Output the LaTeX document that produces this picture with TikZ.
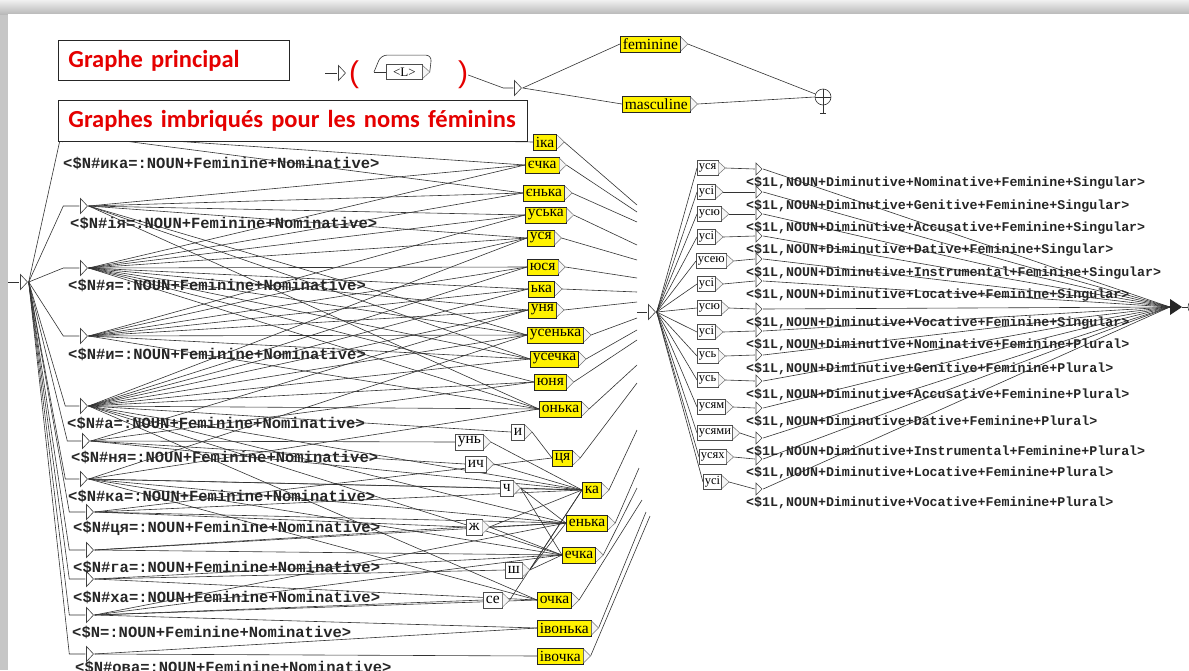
\documentclass[tikz,border=0pt]{standalone}
\usepackage{fontspec}
\setmainfont{Liberation Serif}
\newfontfamily\monof{Liberation Mono}
\newfontfamily\ttlf{Carlito}
\newfontfamily\parf{Liberation Sans}
\pgfdeclarelayer{back}
\pgfdeclarelayer{bg}
\pgfsetlayers{back,bg,main}
\begin{document}
\begin{tikzpicture}[x=1pt,y=-1pt,
 edge/.style={draw=black!80,line width=0.6pt},
 st/.style={inner sep=0pt,minimum width=9pt,minimum height=17pt,
   path picture={\draw[line width=0.6pt,draw=black!75,fill=white]
     ([shift={(1pt,-1pt)}]path picture bounding box.north west) --
     ([xshift=-1pt]path picture bounding box.east) --
     ([shift={(1pt,1pt)}]path picture bounding box.south west) -- cycle;}},
 stdark/.style={inner sep=0pt,minimum width=12pt,minimum height=16pt,
   path picture={\fill[black!85]
     (path picture bounding box.north west) --
     (path picture bounding box.east) --
     (path picture bounding box.south west) -- cycle;}},
 ybox/.style={draw=black!85,fill=yellow,line width=0.75pt,inner xsep=2.5pt,inner ysep=0pt,
   minimum height=16pt,font=\fontsize{15.5}{15.5}\selectfont,anchor=west},
 wbox/.style={ybox,fill=white,draw=black!70},
 rbox/.style={wbox,minimum height=15pt,inner xsep=1.5pt,font=\fontsize{12.5}{12.5}\selectfont},
 tipst/.style={draw=black!55,fill=gray!8,line width=0.5pt},
 lab/.style={anchor=west,inner sep=0pt,text=black!85,font=\monof\bfseries\fontsize{15.5}{16}\selectfont},
 rlab/.style={lab,font=\monof\bfseries\fontsize{13.3}{14}\selectfont},
 ttl/.style={draw=black!85,line width=0.9pt,fill=white,anchor=north west,inner xsep=10pt,
   align=left,text=red!90!black,font=\ttlf\bfseries\fontsize{24.5}{27}\selectfont},
 paren/.style={text=red!90!black,font=\parf\fontsize{30}{30}\selectfont,inner sep=0pt}
]
\useasboundingbox (0,0) rectangle (1189,670);
\clip (0,0) rectangle (1189,670);
\begin{pgfonlayer}{back}
\fill[gray!45] (0,0) rectangle (1189,670);
\shade[top color=gray!12,bottom color=gray!55] (0,0) rectangle (1189,14);
\fill[white] (8,14) rectangle (1189,670);
\end{pgfonlayer}

% ---------- main graph ----------
\coordinate (m0in) at (325,73);
\node[st] (m0) at (342,73) {};
\node[paren] (lp) at (354,75) {(};
\node[wbox,font=\fontsize{13}{13}\selectfont,minimum height=15pt,minimum width=36pt] (L) at (386,72) {<L>};
\node[paren] (rp) at (463,75) {)};
\node[st] (m1) at (518,88) {};
\node[ybox] (fem) at (620,44) {feminine};
\node[ybox] (masc) at (622,104) {masculine};
\node[circle,draw=black!80,line width=0.6pt,minimum size=16pt,inner sep=0pt] (mf) at (823,97) {};
\draw[line width=0.6pt,black!80] (mf.north) -- (mf.south) (mf.west) -- (mf.east);
\draw[line width=0.6pt,black!80] (mf.south) -- ++(0,8) coordinate (ms);
\draw[line width=0.6pt,black!80] ([xshift=-3pt]ms) -- ([xshift=3pt]ms);

% ---------- left graph: states ----------
\node[st] (init) at (24,282) {};
\coordinate (lin) at (8,282);
\node[st] (ika) at (66,134) {};
\node[st] (ia) at (84,206) {};
\node[st] (ya) at (84,268) {};
\node[st] (yi) at (84,336) {};
\node[st] (a) at (84,406) {};
\node[st] (nya) at (86,441) {};
\node[st] (ka) at (84,479) {};
\node[st] (tsya) at (90,512) {};
\node[st] (ga) at (90,550) {};
\node[st] (kha) at (90,579) {};
\node[st] (nn) at (90,615) {};
\node[st] (ova) at (90,654) {};

\node[lab] (lika) at (63,163) {<\$N\#ика=:NOUN+Feminine+Nominative>};
\node[lab] (lia) at (70,223) {<\$N\#ія=:NOUN+Feminine+Nominative>};
\node[lab] (lya) at (68,285) {<\$N\#я=:NOUN+Feminine+Nominative>};
\node[lab] (lyi) at (68,354) {<\$N\#и=:NOUN+Feminine+Nominative>};
\node[lab] (la) at (67,423) {<\$N\#а=:NOUN+Feminine+Nominative>};
\node[lab] (lnya) at (71,457) {<\$N\#ня=:NOUN+Feminine+Nominative>};
\node[lab] (lka) at (68,496) {<\$N\#ка=:NOUN+Feminine+Nominative>};
\node[lab] (ltsya) at (73,528) {<\$N\#ця=:NOUN+Feminine+Nominative>};
\node[lab] (lga) at (73,567) {<\$N\#га=:NOUN+Feminine+Nominative>};
\node[lab] (lkha) at (73,597) {<\$N\#ха=:NOUN+Feminine+Nominative>};
\node[lab] (lnn) at (72,632) {<\$N=:NOUN+Feminine+Nominative>};
\node[lab] (lova) at (75,667) {<\$N\#ова=:NOUN+Feminine+Nominative>};

% yellow and white boxes
\foreach \nm/\px/\py/\tx in {T1/533/142/іка, T2/525/165/єчка, T3/523/193/єнька, T4/525/215/уська,
  T5/527/238/уся, T6/527/267/юся, T7/528/289/ька, T8/528/310/уня, T9/527/335/усенька,
  T10/530/359/усечка, T11/534/382/юня, T12/539/409/онька, T13/552/458/ця, T14/582/490/ка,
  T15/566/523/енька, T16/562/555/ечка, T17/537/600/очка, T18/537/628/івонька, T19/537/656/івочка}
  \node[ybox] (\nm) at (\px,\py) {\tx};
\foreach \nm/\px/\py/\tx in {W1/511/432/и, W2/455/442/унь, W3/465/464/ич, W4/500/488/ч,
  W5/466/527/ж, W6/505/570/ш, W7/483/600/се}
  \node[wbox] (\nm) at (\px,\py) {\tx};

% ---------- right graph ----------
\coordinate (rin) at (637,312);
\node[st] (rinit) at (652,312) {};
\foreach \nm/\px/\py/\tx in {rb1/697/168/уся, rb2/697/192/усі, rb3/697/214/усю, rb4/697/237/усі,
  rb5/696/261/усею, rb6/697/284/усі, rb7/697/308/усю, rb8/697/332/усі, rb9/697/356/усь,
  rb10/697/380/усь, rb11/697/407/усям, rb12/697/433/усями, rb13/699/457/усях, rb14/703/482/усі}
  \node[rbox] (\nm) at (\px,\py) {\tx};
\foreach \i/\py in {1/169,2/192,3/214,4/236,5/259,6/281,7/309,8/331,9/355,10/381,11/408,12/438,13/459,14/489}
  \node[st,minimum height=14pt,minimum width=8pt] (ct\i) at (759,\py) {};
\foreach \i/\py/\cs/\nb in {1/183/Nominative/Singular,2/206/Genitive/Singular,3/228/Accusative/Singular,
  4/250/Dative/Singular,5/273/Instrumental/Singular,6/295/Locative/Singular,7/323/Vocative/Singular,
  8/345/Nominative/Plural,9/369/Genitive/Plural,10/395/Accusative/Plural,11/422/Dative/Plural,
  12/452/Instrumental/Plural,13/473/Locative/Plural,14/503/Vocative/Plural}
  \node[rlab] (rl\i) at (746,\py) {<\$1L,NOUN+Diminutive+\cs+Feminine+\nb>};
\node[stdark] (rfin) at (1176,307) {};
\node[circle,draw=black!80,line width=0.6pt,minimum size=16pt] (rend) at (1196,307) {};

% box tips
\foreach \nm in {T1,T2,T3,T4,T5,T6,T7,T8,T9,T10,T11,T12,T13,T14,T15,T16,T17,T18,T19,
  W1,W2,W3,W4,W5,W6,W7,rb1,rb2,rb3,rb4,rb5,rb6,rb7,rb8,rb9,rb10,rb11,rb12,rb13,rb14,fem,masc,L}{
  \draw[tipst] ([yshift=-1.5pt]\nm.north east) -- ([xshift=7pt]\nm.east) -- ([yshift=1.5pt]\nm.south east);
  \coordinate (\nm-o) at ([xshift=7pt]\nm.east);
}

% ---------- connectors ----------
\begin{pgfonlayer}{bg}
% main graph
\draw[edge] (m0in) -- (m0.west);
\coordinate (Lin) at ([xshift=-12pt]L.west);
\draw[edge] (Lin) -- (L.west);
\draw[edge,rounded corners=6pt] (L-o) -- ([xshift=9pt,yshift=9pt]L.north east)
  -- ([xshift=-5pt,yshift=9pt]L.north west) -- (Lin);
\draw[edge] (rp.east) -- ([xshift=-10pt]m1.west) -- (m1.west);
\draw[edge] (m1.east) -- (fem.west);
\draw[edge] (m1.east) -- (masc.west);
\draw[edge] (fem-o) -- (mf);
\draw[edge] (masc-o) -- (mf.west);

% left graph
\draw[edge] (lin) -- (init.west);
\draw[edge] (init.east) -- (ika.west);
\foreach \s/\d in {ia/16,ya/16,yi/16,a/14,nya/14,ka/14,tsya/16,ga/16,kha/16,nn/16,ova/16}
  \draw[edge] (init.east) -- ([xshift=-\d pt]\s.west) -- (\s.west);
\foreach \s/\d in {ika/T1,ika/T2,ika/T3,
  ia/T2,ia/T3,ia/T4,ia/T5,ia/T9,ia/T10,ia/T12,
  ya/T2,ya/T3,ya/T4,ya/T5,ya/T6,ya/T7,ya/T8,ya/T9,ya/T10,ya/T11,ya/T12,
  yi/T4,yi/T5,yi/T6,yi/T7,yi/T8,yi/T9,yi/T10,yi/T12,
  a/T5,a/T6,a/T7,a/T8,a/T9,a/T10,a/T11,a/T12,a/W1,a/T14,a/T15,a/T16,a/T17,
  nya/T8,nya/T11,nya/W2,nya/W3,nya/T14,
  ka/T9,ka/T12,ka/W4,ka/T14,ka/T15,ka/T16,ka/T17,
  tsya/W5,tsya/T13,tsya/T14,tsya/T15,
  ga/W5,ga/T15,ga/T16,
  kha/W6,kha/T16,kha/T17,
  nn/W7,nn/T15,nn/T16,nn/T17,nn/T18,
  ova/T18,ova/T19}
  \draw[edge] (\s.east) -- (\d.west);
\foreach \s/\d in {W1/T13,W2/T14,W3/T14,W4/T14,W4/T15,W4/T16,W5/T14,W5/T15,W5/T16,
  W6/T14,W6/T15,W6/T16,W7/T14}
  \draw[edge] (\s-o) -- (\d.west);
\foreach \nm/\px/\py in {T1/637/205,T2/637/212,T3/637/222,T4/637/245,T5/637/260,T6/637/278,
  T7/637/292,T8/637/302,T9/637/318,T10/637/330,T11/637/340,T12/637/365,T13/637/383,
  T14/637/430,T15/639/468,T16/637/488,T17/642/500,T18/646/512,T19/650/516}{
  \coordinate (x\nm) at (\px,\py);
  \draw[edge] (\nm-o) -- (x\nm);
}
% right graph
\draw[edge] (rin) -- (rinit.west);
\foreach \i in {1,...,14}{
  \draw[edge] (rinit.east) -- (rb\i.west);
  \draw[edge] (rb\i-o) -- (ct\i.west);
  \draw[edge] (ct\i.east) -- (rfin.west);
}
\draw[edge] (rfin.east) -- (rend.west);
\end{pgfonlayer}

% ---------- titles ----------
\node[ttl,text width=211pt,minimum height=40pt] (t1) at (58,40) {Graphe principal};
\node[ttl,text width=449pt,minimum height=41pt] (t2) at (58,100) {\mbox{Graphes imbriqués pour les noms féminins}};
\end{tikzpicture}
\end{document}
